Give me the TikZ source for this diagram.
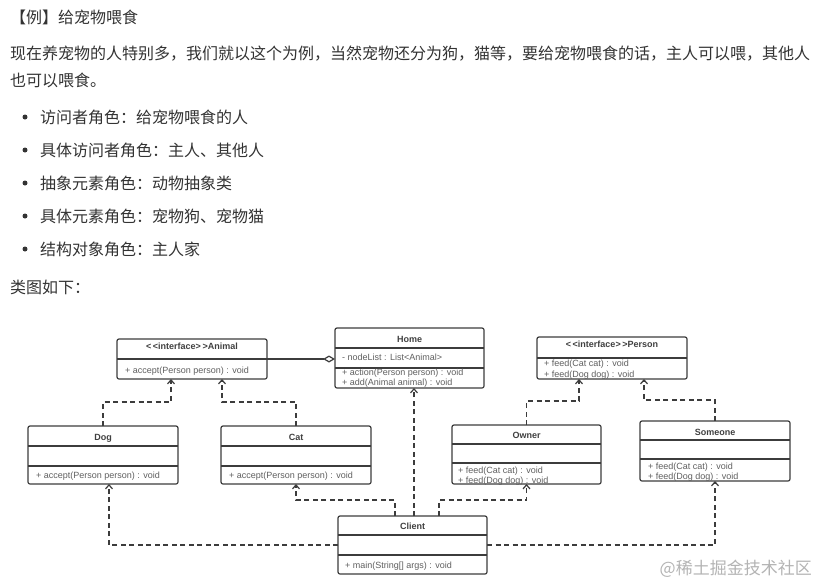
\documentclass[tikz,border=0pt]{standalone}
\usepackage{fontspec}
\setmainfont{Liberation Sans}
\newfontfamily\cjk{Noto Sans CJK SC}
\usetikzlibrary{arrows.meta,calc}
\definecolor{txtc}{HTML}{333333}
\definecolor{lnc}{HTML}{3C3C3C}
\definecolor{methc}{HTML}{606060}
\definecolor{cnc}{HTML}{404040}
\definecolor{wmc}{HTML}{B4B4B4}
\begin{document}
\begin{tikzpicture}[x=1pt,y=-1pt,
 cls/.style={draw=lnc, line width=1.2pt, rounded corners=2pt, anchor=north west, inner sep=0pt, outer sep=0pt},
 divline/.style={draw=lnc, line width=1.1pt},
 cname/.style={font=\fontsize{9}{10}\selectfont\bfseries, text=cnc, inner sep=0pt, text height=6.5pt, text depth=0pt},
 methtxt/.style={font=\fontsize{9}{10}\selectfont, text=methc, anchor=west, inner sep=0pt, text height=6.5pt, text depth=1.8pt},
 dep/.style={draw=lnc, line width=1.2pt, dash pattern=on 5pt off 3.5pt, -{Straight Barb[length=4pt,width=7pt]}},
 zh/.style={font=\cjk\fontsize{16}{20}\selectfont, text=txtc, anchor=west, inner sep=0pt},
 dot/.style={circle, fill=txtc, minimum size=5pt, inner sep=0pt},
]
\fill[white] (0,0) rectangle (818,584);
\useasboundingbox (0,0) rectangle (818,584);

% ---------- text part ----------
\node[zh] (title) at (10,17) {【例】给宠物喂食};
\node[zh] (para1) at (10,54) {现在养宠物的人特别多，我们就以这个为例，当然宠物还分为狗，猫等，要给宠物喂食的话，主人可以喂，其他人};
\node[zh] (para2) at (10,80) {也可以喂食。};
\node[dot] (b1) at (25,117) {};
\node[zh] (i1) at (40,117) {访问者角色：给宠物喂食的人};
\node[dot] (b2) at (25,150) {};
\node[zh] (i2) at (40,150) {具体访问者角色：主人、其他人};
\node[dot] (b3) at (25,183) {};
\node[zh] (i3) at (40,183) {抽象元素角色：动物抽象类};
\node[dot] (b4) at (25,216) {};
\node[zh] (i4) at (40,216) {具体元素角色：宠物狗、宠物猫};
\node[dot] (b5) at (25,249) {};
\node[zh] (i5) at (40,249) {结构对象角色：主人家};
\node[zh] (cap) at (10,287) {类图如下：};

% ---------- class boxes ----------
\node[cls, minimum width=150pt, minimum height=40pt] (animal) at (117,339) {};
\node[cls, minimum width=149pt, minimum height=60pt] (home) at (335,328) {};
\node[cls, minimum width=150pt, minimum height=42pt] (person) at (537,337) {};
\node[cls, minimum width=150pt, minimum height=58pt] (dog) at (28,426) {};
\node[cls, minimum width=150pt, minimum height=58pt] (cat) at (221,426) {};
\node[cls, minimum width=149pt, minimum height=59pt] (owner) at (452,425) {};
\node[cls, minimum width=150pt, minimum height=60pt] (someone) at (640,421) {};
\node[cls, minimum width=149pt, minimum height=58pt] (client) at (338,516) {};

% dividers
\draw[divline] (animal.west |- 0,359) -- (animal.east |- 0,359);
\draw[divline] (home.west |- 0,348) -- (home.east |- 0,348);
\draw[divline] (home.west |- 0,368) -- (home.east |- 0,368);
\draw[divline] (person.west |- 0,358) -- (person.east |- 0,358);
\draw[divline] (dog.west |- 0,446) -- (dog.east |- 0,446);
\draw[divline] (dog.west |- 0,466) -- (dog.east |- 0,466);
\draw[divline] (cat.west |- 0,446) -- (cat.east |- 0,446);
\draw[divline] (cat.west |- 0,466) -- (cat.east |- 0,466);
\draw[divline] (owner.west |- 0,444) -- (owner.east |- 0,444);
\draw[divline] (owner.west |- 0,463) -- (owner.east |- 0,463);
\draw[divline] (someone.west |- 0,440) -- (someone.east |- 0,440);
\draw[divline] (someone.west |- 0,459) -- (someone.east |- 0,459);
\draw[divline] (client.west |- 0,535) -- (client.east |- 0,535);
\draw[divline] (client.west |- 0,555) -- (client.east |- 0,555);

% class texts
\node[cname] (tanimal) at (192,346) {<\,<interface>\,>Animal};
\node[methtxt] (manimal) at (125,371) {+ accept(Person person) : void};
\node[cname] (thome) at (409.5,339) {Home};
\node[methtxt] (ahome) at (342,358) {- nodeList : List<Animal>};
\node[methtxt] (mhomea) at (342,373) {+ action(Person person) : void};
\node[methtxt] (mhomeb) at (342,383) {+ add(Animal animal) : void};
\node[cname] (tperson) at (612,344) {<\,<interface>\,>Person};
\node[methtxt] (mpersona) at (544,364) {+ feed(Cat cat) : void};
\node[methtxt] (mpersonb) at (544,375) {+ feed(Dog dog) : void};
\node[cname] (tdog) at (103,437) {Dog};
\node[methtxt] (mdog) at (36,476) {+ accept(Person person) : void};
\node[cname] (tcat) at (296,437) {Cat};
\node[methtxt] (mcat) at (229,476) {+ accept(Person person) : void};
\node[cname] (towner) at (526.5,435) {Owner};
\node[methtxt] (mownera) at (458,471) {+ feed(Cat cat) : void};
\node[methtxt] (mownerb) at (458,481) {+ feed(Dog dog) : void};
\node[cname] (tsomeone) at (715,432) {Someone};
\node[methtxt] (msomeonea) at (648,467) {+ feed(Cat cat) : void};
\node[methtxt] (msomeoneb) at (648,477) {+ feed(Dog dog) : void};
\node[cname] (tclient) at (412.5,526) {Client};
\node[methtxt] (mclient) at (345,566) {+ main(String[] args) : void};

% ---------- connectors ----------
\draw[draw=lnc, line width=1.2pt, -{Diamond[open,length=12pt,width=7pt]}] (animal.east) -- (animal.east -| home.west);

\coordinate (a1) at (171,402);
\coordinate (a2) at (222,402);
\coordinate (p1) at (579,401);
\coordinate (p2) at (644,400);
\coordinate (h1) at (414,0);
\coordinate (c1) at (395,500);
\coordinate (c2) at (439,500);
\coordinate (d1) at (109,0);

\draw[dep] (dog.north) |- (a1) -- (a1 |- animal.south);
\draw[dep] (cat.north) |- (a2) -- (a2 |- animal.south);
\draw[dep] (owner.north) |- (p1) -- (p1 |- person.south);
\draw[dep] (someone.north) |- (p2) -- (p2 |- person.south);
\draw[dep] (h1 |- client.north) -- (h1 |- home.south);
\draw[dep] (c1 |- client.north) -- (c1) -| (cat.south);
\draw[dep] (c2 |- client.north) -- (c2) -| (owner.south);
\draw[dep] (client.west) -| (d1 |- dog.south);
\draw[dep] (client.east) -| (someone.south);

% watermark
\node[font=\cjk\fontsize{17}{20}\selectfont, text=wmc, anchor=east, inner sep=0pt] (wm) at (812,569) {@稀土掘金技术社区};
\end{tikzpicture}
\end{document}
